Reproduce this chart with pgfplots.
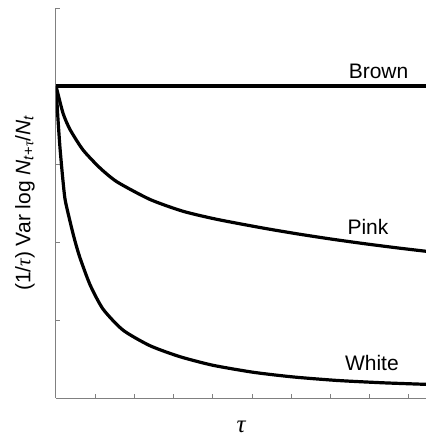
\documentclass[border=0pt]{standalone}
\usepackage{fontspec}
\setmainfont{Liberation Sans}
\newfontfamily\seriffont{Liberation Serif}
\usepackage{pgfplots}
\pgfplotsset{compat=1.18}
\newcommand{\tauit}{{\seriffont\itshape τ}}
\definecolor{axgray}{rgb}{0.5,0.5,0.5}

\begin{document}
\fontsize{21}{25}\selectfont
\begin{tikzpicture}
\useasboundingbox (-56pt,-39pt) rectangle (370pt,398pt);
\begin{axis}[
    width=370pt, height=390pt, scale only axis,
    xmin=0, xmax=9.44, ymin=0, ymax=5,
    axis lines=left,
    axis line style={-, axgray, line width=1pt},
    xtick={1,...,9}, ytick={1,...,5},
    xticklabels={}, yticklabels={},
    tick align=inside, major tick length=4pt,
    tick style={axgray, line width=0.8pt},
    xlabel={\fontsize{25}{28}\selectfont\tauit},
    xlabel style={at={(axis description cs:0.5,-0.074)}, anchor=center},
    ylabel={(1/\tauit) Var log \textit{N}\textsubscript{\textit{t}+\tauit}/\textit{N}\textsubscript{\textit{t}}},
    ylabel style={at={(axis description cs:-0.084,0.5)}, anchor=center},
]
% Brown noise: flat
\addplot[black, line width=3.2pt, no marks] coordinates {(0,4) (9.44,4)};
% Pink noise
\addplot[black, line width=3.2pt, no marks, smooth, tension=0.4] coordinates {
    (0,4.00) (0.18,3.65) (0.36,3.44) (0.69,3.18) (1.12,2.95) (1.56,2.77)
    (2.40,2.545) (3.24,2.394) (4.11,2.29) (5.28,2.179) (6.15,2.105) (6.99,2.04)
    (7.83,1.981) (8.70,1.925) (9.44,1.881)
};
% White noise
\addplot[black, line width=3.2pt, no marks, smooth, tension=0.4] coordinates {
    (0,4.00) (0.05,3.58) (0.10,3.22) (0.16,2.88) (0.23,2.55) (0.36,2.26)
    (0.48,2.02) (0.61,1.80) (0.87,1.45) (1.20,1.14) (1.71,0.87) (2.40,0.67)
    (3.16,0.53) (4.00,0.42) (5.03,0.33) (6.05,0.27) (7.17,0.225) (8.34,0.195)
    (9.44,0.175)
};
\node at (axis cs:8.23,4.19) {Brown};
\node at (axis cs:7.96,2.19) {Pink};
\node at (axis cs:8.06,0.45) {White};
\end{axis}
\end{tikzpicture}
\end{document}
